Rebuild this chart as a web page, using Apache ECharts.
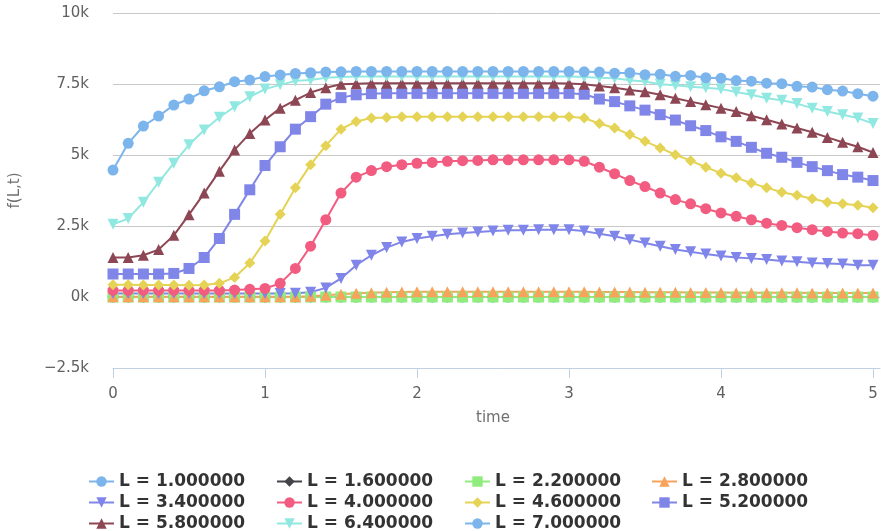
<!DOCTYPE html>
<html>
<head>
<meta charset="utf-8">
<script src="https://cdn.jsdelivr.net/npm/echarts@6/dist/echarts.min.js"></script>
<style>html,body{margin:0;padding:0;background:#fff}#c{width:881px;height:531px}</style>
</head>
<body>
<div id="c"></div>
<script>
const time = [0,0.1,0.2,0.3,0.4,0.5,0.6,0.7,0.8,0.9,1,1.1,1.2,1.3,1.4,1.5,1.6,1.7,1.8,1.9,2,2.1,2.2,2.3,2.4,2.5,2.6,2.7,2.8,2.9,3,3.1,3.2,3.3,3.4,3.5,3.6,3.7,3.8,3.9,4,4.1,4.2,4.3,4.4,4.5,4.6,4.7,4.8,4.9,5];
const xTicks = [0,1,2,3,4,5];
const yTicks = [-2500,0,2500,5000,7500,10000];
const seriesNames = ['L = 1.000000','L = 1.600000','L = 2.200000','L = 2.800000','L = 3.400000','L = 4.000000','L = 4.600000','L = 5.200000','L = 5.800000','L = 6.400000','L = 7.000000'];

const L1_0 = [0,0,0,0,0,0,0,0,0,0,0,0,0,0,0,0,0,0,0,0,0,0,0,0,0,0,0,0,0,0,0,0,0,0,0,0,0,0,0,0,0,0,0,0,0,0,0,0,0,0,0];
const L1_6 = [0,0,0,0,0,0,0,0,0,0,0,0,0,0,0,0,0,0,0,0,0,0,0,0,0,0,0,0,0,0,0,0,0,0,0,0,0,0,0,0,0,0,0,0,0,0,0,0,0,0,0];
const L2_2 = [0,0,0,0,0,0,0,0,0,0,0,0,0,0,0,0,0,0,0,0,0,0,0,0,0,0,0,0,0,0,0,0,0,0,0,0,0,0,0,0,0,0,0,0,0,0,0,0,0,0,0];
const L2_8 = [10,10,10,10,10,10,10,10,10,10,10,10,10,30,60,100,130,150,165,175,185,185,185,185,185,185,185,185,185,185,185,185,180,178,175,170,168,165,160,158,155,152,150,150,148,148,145,145,143,142,140];
const L3_4 = [120,120,120,120,120,120,120,120,120,120,120,120,130,170,320,655,1120,1470,1740,1940,2060,2140,2210,2250,2290,2320,2350,2350,2370,2370,2370,2320,2230,2140,2020,1900,1790,1670,1590,1510,1440,1390,1360,1320,1270,1240,1200,1180,1160,1120,1120];
const L4_0 = [230,230,230,230,230,230,230,230,245,270,300,480,1005,1790,2720,3660,4220,4450,4590,4660,4710,4740,4780,4800,4810,4830,4830,4830,4830,4830,4830,4780,4570,4340,4100,3890,3660,3430,3280,3110,2960,2840,2720,2600,2520,2440,2370,2310,2250,2230,2170];
const L4_6 = [430,430,420,420,420,410,420,480,690,1200,1970,2910,3850,4660,5330,5910,6180,6300,6320,6350,6350,6350,6350,6350,6350,6350,6350,6350,6350,6350,6350,6300,6110,5950,5720,5480,5250,5010,4800,4570,4360,4200,4010,3850,3690,3580,3460,3340,3280,3230,3140];
const L5_2 = [810,810,810,810,830,1005,1390,2060,2910,3775,4630,5290,5910,6350,6790,7020,7120,7160,7170,7170,7170,7170,7170,7170,7170,7170,7170,7170,7170,7170,7170,7140,6970,6880,6730,6580,6420,6230,6030,5860,5640,5480,5270,5060,4920,4740,4590,4450,4310,4220,4100];
const L5_8 = [1390,1390,1470,1670,2170,2900,3660,4430,5180,5760,6230,6650,6930,7200,7370,7490,7510,7530,7530,7530,7530,7530,7530,7530,7530,7530,7530,7530,7530,7530,7520,7490,7430,7370,7290,7230,7120,7000,6880,6770,6650,6530,6380,6240,6090,5950,5800,5620,5450,5290,5090];
const L6_4 = [2560,2760,3340,4040,4710,5360,5880,6330,6700,7050,7320,7470,7610,7640,7720,7750,7760,7760,7760,7760,7760,7760,7760,7760,7760,7760,7760,7760,7760,7760,7760,7750,7720,7700,7630,7590,7490,7460,7400,7370,7320,7220,7120,7000,6930,6810,6650,6530,6420,6300,6110];
const L7_0 = [4470,5410,6020,6370,6760,6970,7260,7400,7580,7640,7760,7820,7870,7900,7920,7930,7940,7940,7940,7940,7940,7940,7940,7940,7940,7940,7940,7940,7940,7940,7940,7930,7920,7880,7900,7830,7840,7770,7800,7720,7700,7620,7600,7530,7510,7420,7390,7300,7250,7160,7070];

const valueSets = [L1_0,L1_6,L2_2,L2_8,L3_4,L4_0,L4_6,L5_2,L5_8,L6_4,L7_0];
const colors = ['#7cb5ec','#434348','#90ed7d','#f7a35c','#8085e9','#f15c80','#e4d354','#8085e8','#8d4653','#91e8e1','#7cb5ec'];
const symbols = ['circle','diamond','rect','triangle','triangle','circle','diamond','rect','triangle','triangle','circle'];
const rotates = [0,0,0,0,180,0,0,0,0,180,0];
const legendLefts = [83, 271, 459, 646];
const legendTops = [468, 489, 510];

const series = valueSets.map((vals, i) => ({
  name: seriesNames[i],
  type: 'line',
  xAxisIndex: 1,
  yAxisIndex: 1,
  data: time.map((t, j) => [t, vals[j]]),
  symbol: symbols[i],
  symbolRotate: rotates[i],
  symbolSize: 11,
  showSymbol: true,
  clip: false,
  color: colors[i],
  lineStyle: { width: 2, color: colors[i] },
  itemStyle: { color: colors[i] },
  emphasis: { disabled: true },
  animation: false
}));

const legends = seriesNames.map((name, i) => ({
  orient: 'horizontal',
  left: legendLefts[i % 4], top: legendTops[Math.floor(i / 4)],
  itemWidth: 25, itemHeight: 13, itemGap: 4,
  selectedMode: false,
  data: [name],
  textStyle: { fontSize: 17, fontWeight: 'bold', color: '#333333', fontFamily: 'DejaVu Sans' }
}));

const chart = echarts.init(document.getElementById('c'), null, { renderer: 'canvas' });
chart.setOption({
  backgroundColor: '#ffffff',
  animation: false,
  textStyle: { fontFamily: 'DejaVu Sans' },
  grid: [
    { left: 107, right: 1, top: 13, bottom: 163 },
    { left: 113, right: 8, top: 13, bottom: 163 }
  ],
  xAxis: [
    {
      type: 'value', gridIndex: 0, min: 0, max: 1,
      axisLine: { show: true, onZero: false, lineStyle: { color: '#C0D0E0', width: 1 } },
      axisTick: { show: false }, axisLabel: { show: false }, splitLine: { show: false }
    },
    {
      type: 'value', gridIndex: 1, min: xTicks[0], max: xTicks[xTicks.length - 1], interval: 1,
      axisLine: { show: false, onZero: false },
      axisTick: { show: true, length: 10, lineStyle: { color: '#C0D0E0' } },
      axisLabel: { color: '#606060', fontSize: 15, margin: 19, fontFamily: 'DejaVu Sans' },
      splitLine: { show: false },
      name: 'time', nameLocation: 'middle', nameGap: 43,
      nameTextStyle: { color: '#707070', fontSize: 15, fontFamily: 'DejaVu Sans' }
    }
  ],
  yAxis: [
    {
      type: 'value', gridIndex: 0, min: yTicks[0], max: yTicks[yTicks.length - 1], interval: 2500,
      axisLine: { show: false }, axisTick: { show: false },
      axisLabel: {
        color: '#606060', fontSize: 15, margin: 24, fontFamily: 'DejaVu Sans',
        formatter: v => (v < 0 ? '\u2212' : '') + (Math.abs(v) / 1000) + 'k'
      },
      splitLine: { show: true, lineStyle: { color: '#C8C8C8', width: 1 } },
      name: 'f(L,t)', nameLocation: 'middle', nameGap: 90,
      nameTextStyle: { color: '#707070', fontSize: 15, fontFamily: 'DejaVu Sans' }
    },
    {
      type: 'value', gridIndex: 1, min: yTicks[0], max: yTicks[yTicks.length - 1], show: false,
      splitLine: { show: false }
    }
  ],
  legend: legends,
  series: series
});
</script>
</body>
</html>
